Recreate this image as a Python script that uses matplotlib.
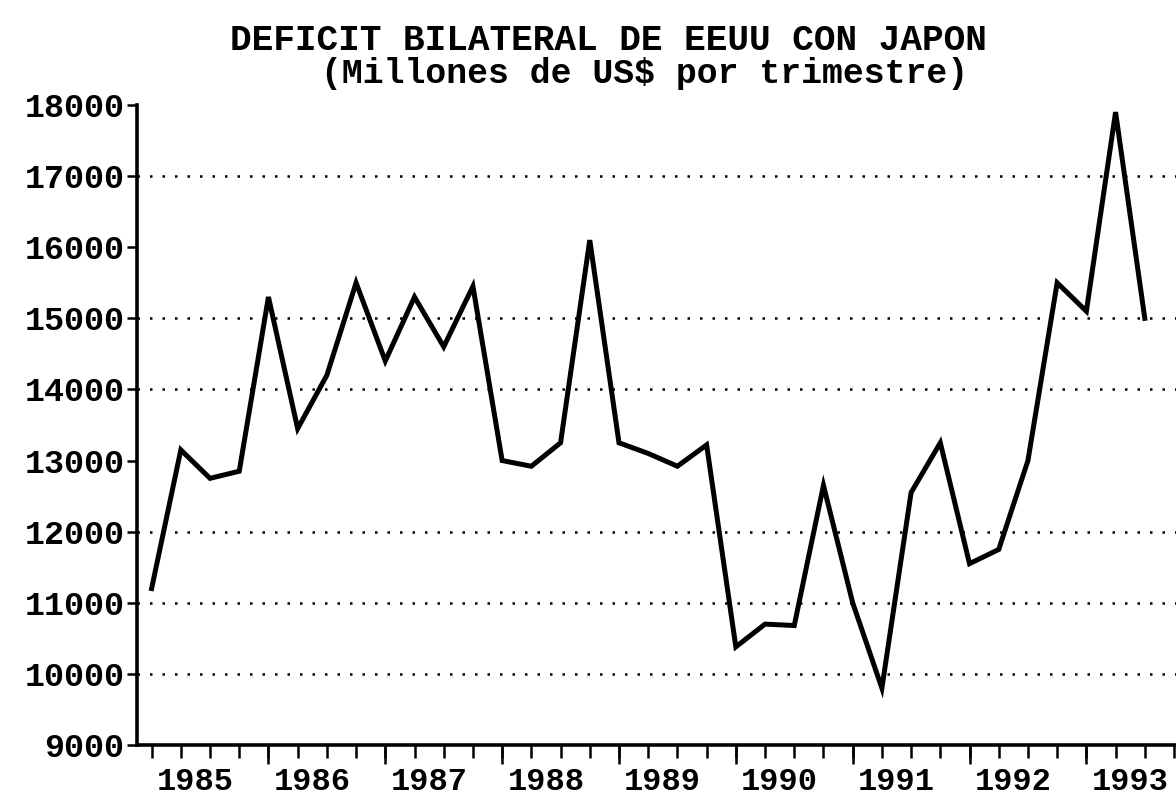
import numpy as np
import matplotlib
matplotlib.use("Agg")
import matplotlib.pyplot as plt

# ---- data ----
years = [1985, 1986, 1987, 1988, 1989, 1990, 1991, 1992, 1993]
quarters = [f"{y}T{q}" for y in years for q in range(1, 5)][:35]
deficit = [11200, 13150, 12750, 12850, 15300, 13450, 14200, 15500, 14400, 15300,
           14600, 15450, 13000, 12920, 13250, 16100, 13250, 13100, 12920, 13220,
           10380, 10700, 10680, 12650, 11000, 9800, 12550, 13250, 11550, 11750,
           13000, 15500, 15100, 17900, 15000]
y_ticks = [9000, 10000, 11000, 12000, 13000, 14000, 15000, 16000, 17000, 18000]
grid_levels = [10000, 11000, 12000, 14000, 15000, 17000]
title = "DEFICIT BILATERAL DE EEUU CON JAPON"
subtitle = "(Millones de US$ por trimestre)"

FONT = ["Liberation Mono", "DejaVu Sans Mono"]

fig = plt.figure(figsize=(11.76, 7.95), dpi=100)
fig.patch.set_facecolor("white")
W, H = 1176, 795
ax = fig.add_axes([137 / W, 1 - 745 / H, 1 - 137 / W, (745 - 105) / H])

x = np.arange(len(deficit))
ax.plot(x, deficit, color="black", lw=3.6, solid_joinstyle="miter", zorder=3)

for g in grid_levels:
    ax.axhline(g, color="black", lw=1.8, linestyle=(0, (1, 4)), zorder=1)

ax.set_ylim(9000, 18000)
x_right = (W - 152) / 29.2
ax.set_xlim(-0.5, x_right)

for s in ["top", "right"]:
    ax.spines[s].set_visible(False)
ax.spines["left"].set_linewidth(2.6)
ax.spines["bottom"].set_linewidth(2.6)

ax.set_yticks(y_ticks)
ax.set_yticklabels([str(v) for v in y_ticks], family=FONT, fontweight="bold", fontsize=24)
ax.tick_params(axis="y", length=7, width=1.8, pad=2)

# year labels centred on each year's quarters
label_pos = [4 * i + 1.5 for i in range(len(years))]
ax.set_xticks(label_pos)
ax.set_xticklabels([str(y) for y in years], family=FONT, fontweight="bold", fontsize=23)
ax.tick_params(axis="x", which="major", length=0, pad=16)
ax.set_xticks(np.arange(0, int(x_right) + 1), minor=True)
ax.tick_params(axis="x", which="minor", length=9, width=1.8, direction="out")

sec = ax.secondary_xaxis("bottom")
sec.set_xticks([4 * i for i in range(1, len(years) + 1)])
sec.set_xticklabels([])
sec.tick_params(length=14, width=1.8)
sec.spines["bottom"].set_visible(False)

fig.text(608 / W, 1 - 40 / H, title, family=FONT, fontweight="bold", fontsize=26,
         ha="center", va="center")
fig.text(645 / W, 1 - 73 / H, subtitle, family=FONT, fontweight="bold", fontsize=25,
         ha="center", va="center")

fig.savefig("out.png", dpi=100, facecolor="white")
